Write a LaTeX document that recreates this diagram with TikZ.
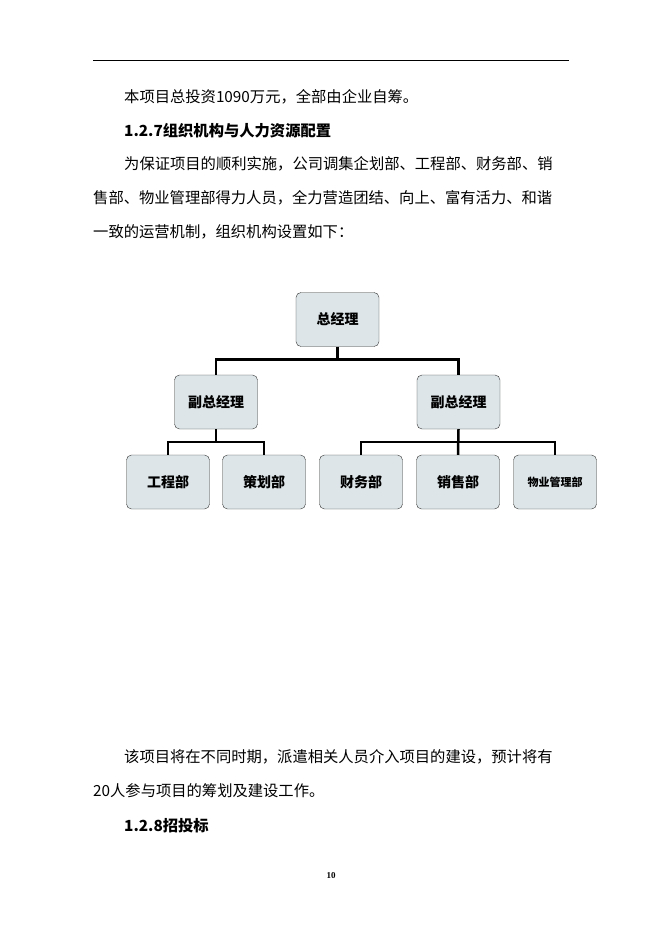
\documentclass[tikz,border=0pt]{standalone}
\usepackage{fontspec}
\setmainfont{Liberation Serif}
\newfontfamily\cjk{Noto Sans CJK SC}
\usetikzlibrary{positioning}
\tikzset{
  orgbox/.style={draw=black!80,fill=cyan!20!gray!25,rounded corners=5pt,minimum width=83pt,minimum height=54pt,font=\cjk\fontsize{14}{14}\selectfont\bfseries,inner sep=1pt},
  link/.style={line width=2.5pt},
  bodytext/.style={anchor=west,inner sep=0pt,font=\cjk\fontsize{15.3}{15.3}\selectfont}
}
\begin{document}
\begin{tikzpicture}[x=1pt,y=-1pt]
        \useasboundingbox (0,0) rectangle (662,936);
        %page
        \draw[line width=0.5pt] (93,60) -- (569,60);
        \node[bodytext] (p1) at (124,97) {本项目总投资1090万元，全部由企业自筹。};
        \node[bodytext,font=\cjk\fontsize{15.3}{15.3}\selectfont\bfseries] (h1) at (124,131) {1.2.7组织机构与人力资源配置};
        \node[bodytext] (p2) at (124,164) {为保证项目的顺利实施，公司调集企划部、工程部、财务部、销};
        \node[bodytext] (p3) at (93,198) {售部、物业管理部得力人员，全力营造团结、向上、富有活力、和谐};
        \node[bodytext] (p4) at (93,232) {一致的运营机制，组织机构设置如下：};
        \node[bodytext] (p5) at (124,757) {该项目将在不同时期，派遣相关人员介入项目的建设，预计将有};
        \node[bodytext] (p6) at (93,791) {20人参与项目的筹划及建设工作。};
        \node[bodytext,font=\cjk\fontsize{15.3}{15.3}\selectfont\bfseries] (h2) at (124,826) {1.2.8招投标};
        \node[font=\bfseries\fontsize{9}{9}\selectfont] (pg) at (331,876) {10};

        %chart
        \node[orgbox] (gm) at (337.5,319.5) {总经理};
        \node[orgbox] (vl) at (216,402) {副总经理};
        \node[orgbox] (vr) at (458.5,402) {副总经理};
        \node[orgbox] (gc) at (168,482) {工程部};
        \node[orgbox] (ch) at (264,482) {策划部};
        \node[orgbox] (cw) at (361,482) {财务部};
        \node[orgbox] (xs) at (458,482) {销售部};
        \node[orgbox,font=\cjk\fontsize{11}{11}\selectfont\bfseries] (wy) at (555,482) {物业管理部};

        %links
        \draw[link] (gm.south) -- ++(0,13) -| (vl.north);
        \draw[link] (gm.south) ++(0,13) -| (vr.north);
        \draw[link] (vl.south) -- ++(0,13) -| (gc.north);
        \draw[link] (vl.south) ++(0,13) -| (ch.north);
        \draw[link] (vr.south) -- (xs.north);
        \draw[link] (vr.south) ++(0,13) -| (cw.north);
        \draw[link] (vr.south) ++(0,13) -| (wy.north);
\end{tikzpicture}
\end{document}
